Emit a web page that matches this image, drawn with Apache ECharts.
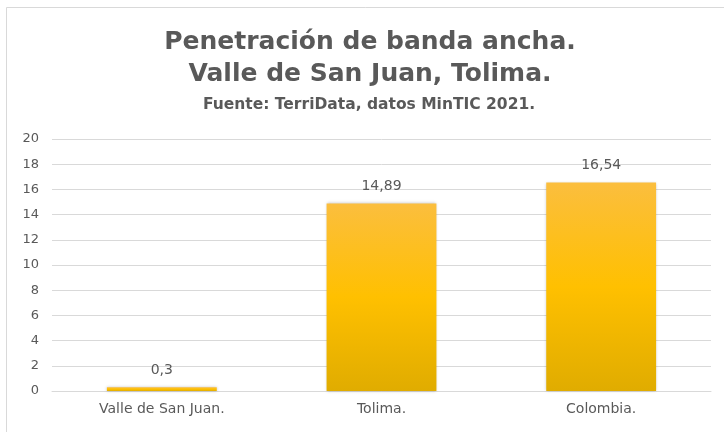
<!DOCTYPE html>
<html><head><meta charset="utf-8">
<script src="https://cdn.jsdelivr.net/npm/echarts@6/dist/echarts.min.js"></script>
<style>html,body{margin:0;padding:0;background:#fff}#c{width:724px;height:432px}</style>
</head><body><div id="c"></div>
<script>
const titleLine1 = 'Penetración de banda ancha.';
const titleLine2 = 'Valle de San Juan, Tolima.';
const subtitle = 'Fuente: TerriData, datos MinTIC 2021.';
const categories = ['Valle de San Juan.', 'Tolima.', 'Colombia.'];
const values = [0.3, 14.89, 16.54];
const yTicks = { min: 0, max: 20, interval: 2 };

const FONT = 'DejaVu Sans';
const chart = echarts.init(document.getElementById('c'), null, { renderer: 'canvas' });
const fmt = v => String(v).replace('.', ',');
chart.setOption({
  animation: false,
  backgroundColor: '#fff',
  graphic: [
    { type: 'line', shape: { x1: 6.5, y1: 7.5, x2: 724, y2: 7.5 }, style: { stroke: '#d9d9d9', lineWidth: 1 } },
    { type: 'line', shape: { x1: 6.5, y1: 7.5, x2: 6.5, y2: 432 }, style: { stroke: '#d9d9d9', lineWidth: 1 } }
  ],
  title: [
    { text: titleLine1, left: 370, top: 28, textAlign: 'center', padding: 0,
      textStyle: { fontFamily: FONT, fontWeight: 'bold', fontSize: 25, color: '#595959', lineHeight: 28 } },
    { text: titleLine2, left: 370, top: 59, textAlign: 'center', padding: 0,
      textStyle: { fontFamily: FONT, fontWeight: 'bold', fontSize: 25, color: '#595959', lineHeight: 30 } },
    { text: subtitle, left: 369, top: 96, textAlign: 'center', padding: 0,
      textStyle: { fontFamily: FONT, fontWeight: 'bold', fontSize: 15.5, color: '#595959', lineHeight: 17 } }
  ],
  grid: { left: 52, right: 13, top: 139, bottom: 41 },
  xAxis: {
    type: 'category', data: categories,
    axisLine: { lineStyle: { color: '#d9d9d9' } },
    axisTick: { show: false },
    axisLabel: { color: '#595959', fontFamily: FONT, fontSize: 14, margin: 11 }
  },
  yAxis: {
    type: 'value', min: yTicks.min, max: yTicks.max, interval: yTicks.interval,
    axisLine: { show: false }, axisTick: { show: false },
    splitLine: { lineStyle: { color: '#d9d9d9', width: 1 } },
    axisLabel: { color: '#595959', fontFamily: FONT, fontSize: 13, margin: 13 }
  },
  series: [{
    type: 'bar', data: values, barWidth: '50%',
    itemStyle: {
      color: new echarts.graphic.LinearGradient(0, 0, 0, 1, [
        { offset: 0, color: '#FBBE3E' },
        { offset: 0.5, color: '#FFC000' },
        { offset: 1, color: '#E0AC00' }
      ]),
      shadowBlur: 3, shadowColor: 'rgba(0,0,0,0.25)'
    },
    label: { show: true, position: 'top', distance: 10, color: '#595959', fontFamily: FONT, fontSize: 14,
      formatter: p => fmt(p.value) }
  }]
});
</script></body></html>
